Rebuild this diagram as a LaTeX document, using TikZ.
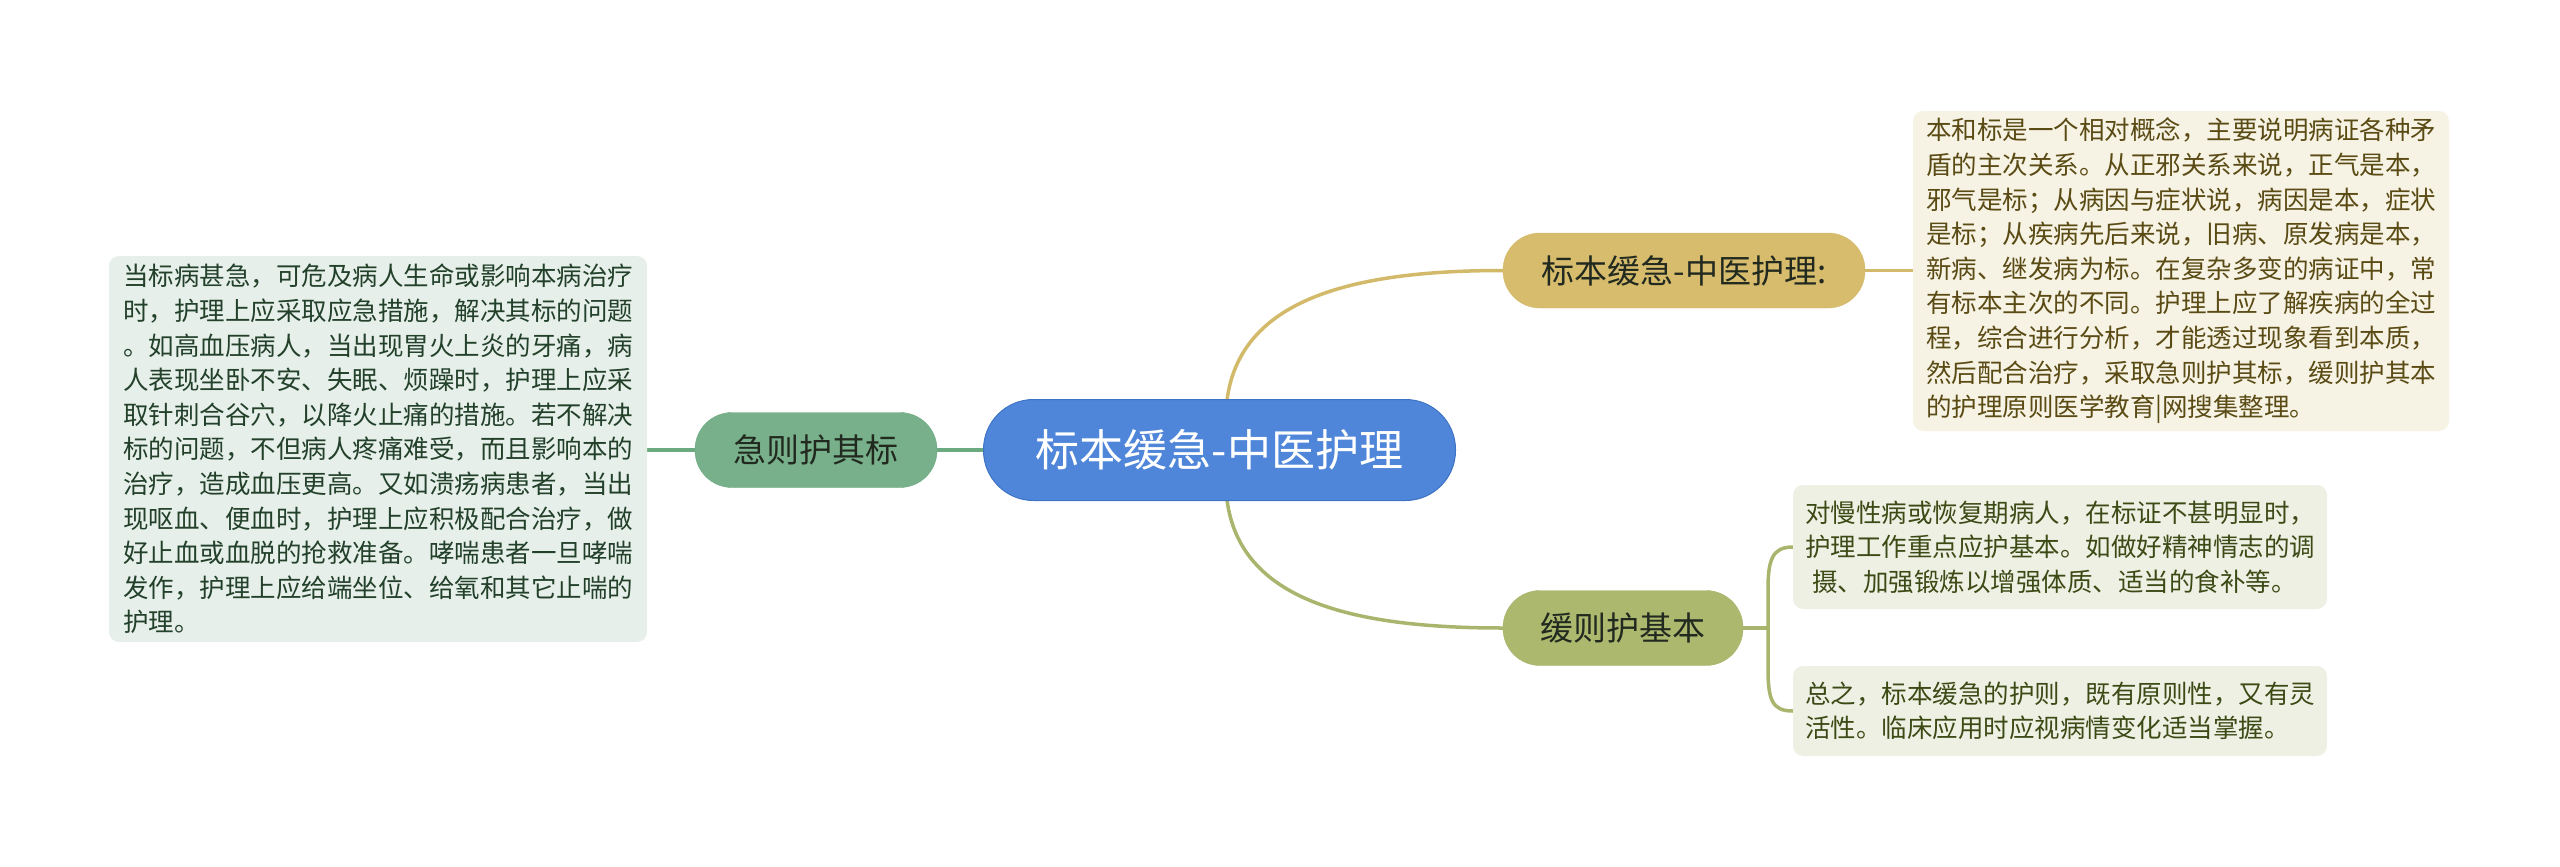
\documentclass[tikz,border=0pt]{standalone}
\usepackage{fontspec}
\setmainfont{Noto Sans CJK SC}
\usetikzlibrary{backgrounds}
\definecolor{rootblue}{HTML}{4F86D9}
\definecolor{rootedge}{HTML}{3F74C4}
\definecolor{gnode}{HTML}{77B08A}
\definecolor{gline}{HTML}{6BAA80}
\definecolor{ynode}{HTML}{D6BC6C}
\definecolor{yline}{HTML}{D3BA6A}
\definecolor{onode}{HTML}{ADB86F}
\definecolor{oline}{HTML}{A9B56C}
\definecolor{lbox}{HTML}{E6EFE9}
\definecolor{rbox}{HTML}{F6F3E4}
\definecolor{obox}{HTML}{EFF0E4}
\definecolor{ltext}{HTML}{22402A}
\definecolor{rtext}{HTML}{5A4A14}
\definecolor{otext}{HTML}{3C4A16}
\definecolor{ntext}{HTML}{222A20}
\tikzset{
  rootnode/.style={fill=rootblue, draw=rootedge, line width=1pt, text=white, inner sep=0pt,
    minimum width=472pt, minimum height=101pt, rounded corners=50pt,
    font=\fontsize{44}{50}\selectfont},
  mainnode/.style={inner sep=0pt, minimum height=75pt, rounded corners=37pt, text=ntext,
    font=\fontsize{33}{38}\selectfont},
  textbox/.style={inner sep=0pt, rounded corners=10pt, align=left,
    font=\fontsize{25.5}{34.6}\selectfont},
  conn/.style={line width=3.5pt, line cap=round}
}
\begin{document}
\begin{tikzpicture}[x=1pt, y=-1pt]
\useasboundingbox (0,0) rectangle (2560,867);

\node[rootnode] (root) at (1219.5,450) {标本缓急-中医护理};

\node[mainnode, fill=gnode, draw=gline, minimum width=242pt] (g) at (816,450) {急则护其标};
\node[mainnode, fill=ynode, draw=yline, minimum width=362pt] (y) at (1684,270.5) {标本缓急-中医护理:};
\node[mainnode, fill=onode, draw=oline, minimum width=240pt] (o) at (1623,628) {缓则护基本};

\node[textbox, fill=lbox, text=ltext, minimum width=538pt, minimum height=386pt] (lt) at (378,449) {当标病甚急，可危及病人生命或影响本病治疗\\时，护理上应采取应急措施，解决其标的问题\\。如高血压病人，当出现胃火上炎的牙痛，病\\人表现坐卧不安、失眠、烦躁时，护理上应采\\取针刺合谷穴，以降火止痛的措施。若不解决\\标的问题，不但病人疼痛难受，而且影响本的\\治疗，造成血压更高。又如溃疡病患者，当出\\现呕血、便血时，护理上应积极配合治疗，做\\好止血或血脱的抢救准备。哮喘患者一旦哮喘\\发作，护理上应给端坐位、给氧和其它止喘的\\护理。};

\node[textbox, fill=rbox, text=rtext, minimum width=536pt, minimum height=320pt] (rt) at (2181,271) {本和标是一个相对概念，主要说明病证各种矛\\盾的主次关系。从正邪关系来说，正气是本，\\邪气是标；从病因与症状说，病因是本，症状\\是标；从疾病先后来说，旧病、原发病是本，\\新病、继发病为标。在复杂多变的病证中，常\\有标本主次的不同。护理上应了解疾病的全过\\程，综合进行分析，才能透过现象看到本质，\\然后配合治疗，采取急则护其标，缓则护其本\\的护理原则医学教育|网搜集整理。};

\node[textbox, fill=obox, text=otext, minimum width=534pt, minimum height=124pt] (b2) at (2060,547) {对慢性病或恢复期病人，在标证不甚明显时，\\护理工作重点应护基本。如做好精神情志的调\\\hspace*{7pt}摄、加强锻炼以增强体质、适当的食补等。};

\node[textbox, fill=obox, text=otext, minimum width=534pt, minimum height=90pt] (b3) at (2060,711) {总之，标本缓急的护则，既有原则性，又有灵\\活性。临床应用时应视病情变化适当掌握。};

\coordinate (rtop) at (1227,400);
\coordinate (rbot) at (1227,500);
\coordinate (fork) at (1768,628);

\begin{pgfonlayer}{background}
\draw[conn, draw=gline] (root.west) -- (g.east);
\draw[conn, draw=gline] (g.west) -- (lt.east |- g.west);
\draw[conn, draw=yline] (rtop) .. controls (1240,300) and (1350,270.5) .. (y.west);
\draw[conn, draw=yline] (y.east) -- (rt.west |- y.east);
\draw[conn, draw=oline] (rbot) .. controls (1240,600) and (1350,628) .. (o.west);
\draw[conn, draw=oline] (o.east) -- (fork);
\draw[conn, draw=oline] (fork) -- (1768,590) .. controls (1768,560) and (1772,547) .. (b2.west);
\draw[conn, draw=oline] (fork) -- (1768,668) .. controls (1768,700) and (1772,711) .. (b3.west);
\end{pgfonlayer}
\end{tikzpicture}
\end{document}
